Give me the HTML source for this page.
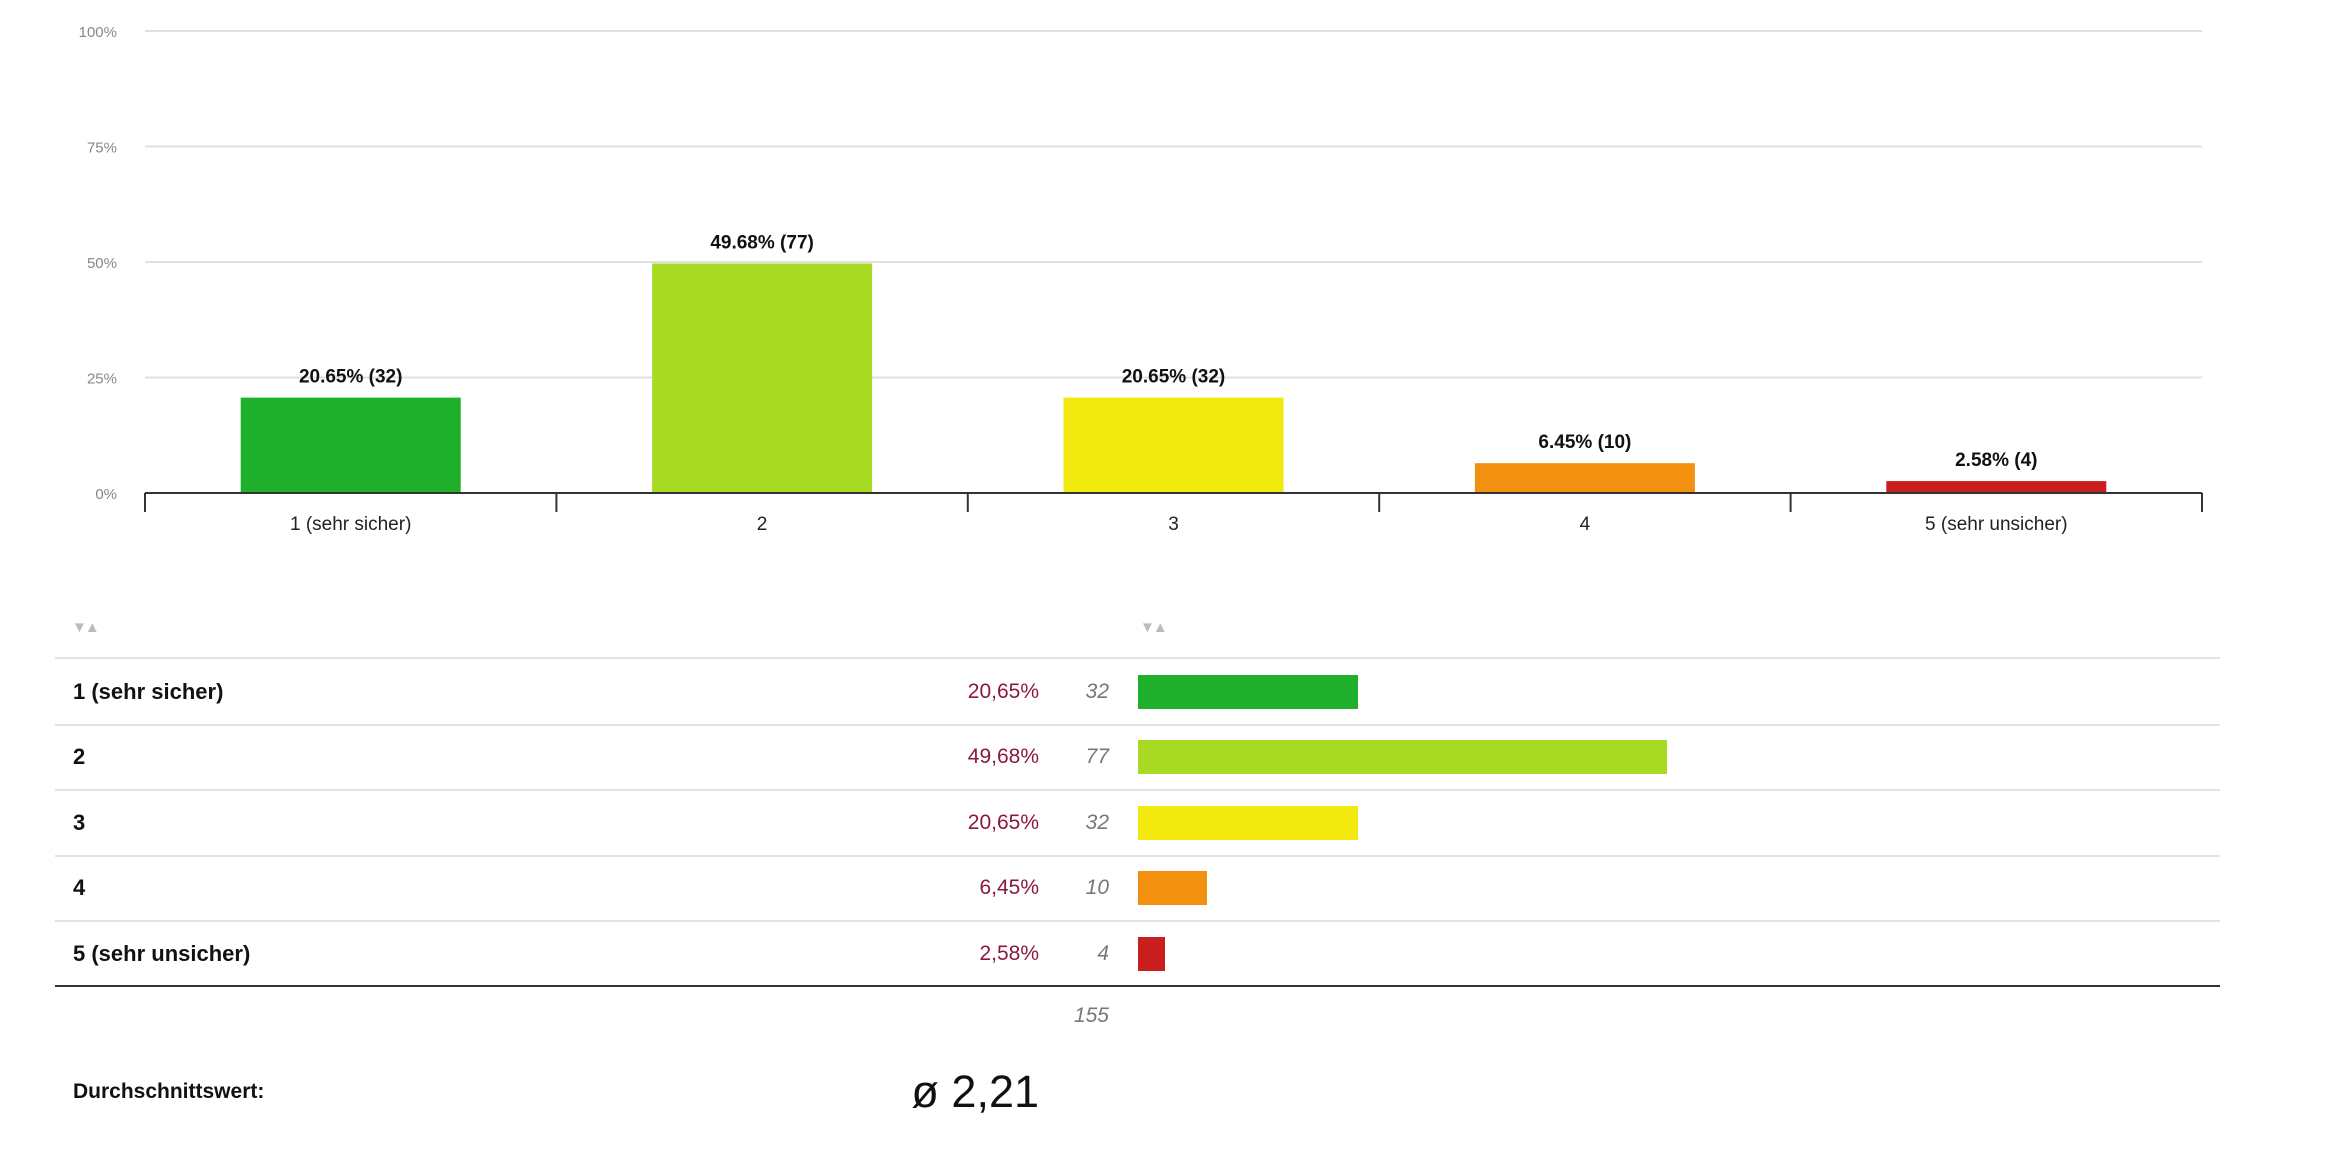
<!DOCTYPE html>
<html><head><meta charset="utf-8">
<style>
body{margin:0;width:2327px;height:1157px;background:#fff;position:relative;overflow:hidden;font-family:"Liberation Sans",sans-serif;}
.abs{position:absolute;}
.lbl{left:73px;font-weight:bold;font-size:22px;color:#111;}
.pct{width:200px;text-align:right;left:839px;font-size:21px;color:#8b1a3a;}
.cnt{width:100px;text-align:right;left:1009px;font-size:21px;color:#777;font-style:italic;}
.hl{left:55px;width:2165px;height:2px;background:#e2e2e2;}
.arr{font-size:15px;color:#bbb;letter-spacing:-2px;}
</style></head>
<body>
<svg id="chart" class="abs" style="left:0;top:0" width="2327" height="560"></svg>

<div class="abs arr" style="left:72px;top:619px">▼▲</div>
<div class="abs arr" style="left:1140px;top:619px">▼▲</div>
<div class="abs hl" style="top:657px"></div>
<div id="table"></div>
<div class="abs" style="left:55px;top:985px;width:2165px;height:2px;background:#333"></div>
<div class="abs cnt" style="top:1004px">155</div>
<div class="abs lbl" style="top:1080px;font-size:21px">Durchschnittswert:</div>
<div class="abs" style="left:739px;width:300px;text-align:right;top:1066px;font-size:45px;color:#111">ø 2,21</div>

<script>
const categories = ["1 (sehr sicher)","2","3","4","5 (sehr unsicher)"];
const percents = [20.65,49.68,20.65,6.45,2.58];
const counts = [32,77,32,10,4];
const colors = ["#1eaf2b","#a8d923","#f2e90f","#f29010","#c81e1e"];
const yTicks = [0,25,50,75,100];
const pctLabels = ["20,65%","49,68%","20,65%","6,45%","2,58%"];

const NS="http://www.w3.org/2000/svg";
const svg=document.getElementById('chart');
const L=145,R=2202,Y0=493,Y100=31;
const y=v=>Y0-(Y0-Y100)*v/100;
const bw=(R-L)/categories.length;
const xc=i=>L+bw*(i+0.5);
function mk(t,a){const e=document.createElementNS(NS,t);for(const k in a)e.setAttribute(k,a[k]);svg.appendChild(e);return e;}
yTicks.forEach(t=>{
  if(t>0){const g=mk('line',{x1:L,x2:R,y1:y(t),y2:y(t),stroke:'#e0e0e0','stroke-width':2});
  
  }
  const tx=mk('text',{x:117,y:y(t)+6,'text-anchor':'end','font-size':15,fill:'#888','font-family':'Liberation Sans, sans-serif'});
  tx.textContent=t+'%';
  
  
});
percents.forEach((p,i)=>{
  const w=220;
  const r=mk('rect',{x:xc(i)-w/2,y:y(p),width:w,height:Y0-y(p),fill:colors[i]});
  
  
  const t=mk('text',{x:xc(i),y:y(p)-15,'text-anchor':'middle','font-size':19,'font-weight':'bold',fill:'#111','font-family':'Liberation Sans, sans-serif'});
  t.textContent=p.toFixed(2)+'% ('+counts[i]+')';
  
  
  const c=mk('text',{x:xc(i),y:530,'text-anchor':'middle','font-size':19,fill:'#222','font-family':'Liberation Sans, sans-serif'});
  c.textContent=categories[i];
  
  
});
for(let i=0;i<=categories.length;i++){
  const tk=mk('line',{x1:L+bw*i,x2:L+bw*i,y1:Y0,y2:512,stroke:'#333','stroke-width':2});
  
  
}
const ax=mk('line',{x1:L,x2:R,y1:Y0,y2:Y0,stroke:'#333','stroke-width':2});



const tb=document.getElementById('table');
const rowTop=659,rowH=65.5,barScale=10.65;
categories.forEach((c,i)=>{
  const top=rowTop+rowH*i;
  const mid=top+rowH/2;
  const a=document.createElement('div');a.className='abs lbl';a.style.top=(mid-13)+'px';a.textContent=c;
  
  
  tb.appendChild(a);
  const p=document.createElement('div');p.className='abs pct';p.style.top=(mid-12)+'px';p.textContent=pctLabels[i];
  
  
  tb.appendChild(p);
  const n=document.createElement('div');n.className='abs cnt';n.style.top=(mid-12)+'px';n.textContent=counts[i];
  
  
  tb.appendChild(n);
  const b=document.createElement('div');b.className='abs';
  b.style.cssText='left:1138px;top:'+(mid-17)+'px;height:34px;width:'+(percents[i]*barScale)+'px;background:'+colors[i];
  
  
  tb.appendChild(b);
  if(i>0){const h=document.createElement('div');h.className='abs hl';h.style.top=(top-1)+'px';
  
  
  tb.appendChild(h);}
});
</script>
</body></html>
